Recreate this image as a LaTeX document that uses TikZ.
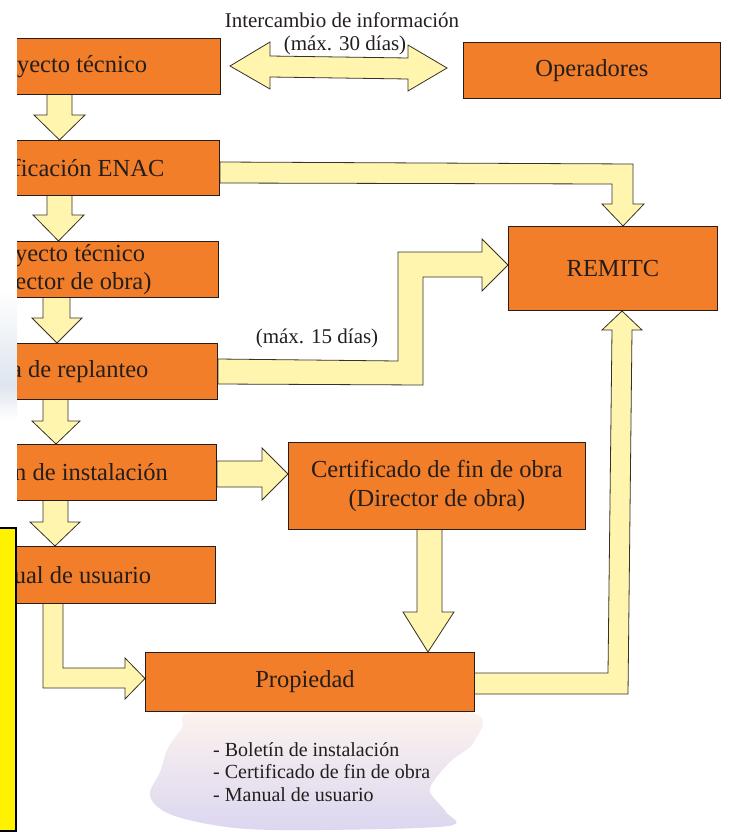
\documentclass[tikz,border=0pt]{standalone}
\usepackage{fontspec}
\setmainfont{Liberation Serif}
\definecolor{orangebox}{RGB}{242,126,42}
\definecolor{boxline}{RGB}{40,30,25}
\definecolor{arrfill}{RGB}{255,245,175}
\definecolor{arrline}{RGB}{55,50,40}
\definecolor{txt}{RGB}{35,30,28}
\definecolor{blobtop}{RGB}{253,244,238}
\definecolor{blobmid}{RGB}{242,228,234}
\definecolor{blobbot}{RGB}{220,214,240}
\definecolor{scanblue}{RGB}{222,229,238}
\begin{document}
\begin{tikzpicture}[x=1pt,y=-1pt,
  box/.style={draw=boxline, line width=0.9pt, fill=orangebox, inner sep=0pt,
    font=\fontsize{24.5}{28.5}\selectfont, text=txt, align=center},
  blockarrow/.style={draw=arrline, line width=0.8pt, fill=arrfill, line join=miter},
  lbl/.style={font=\fontsize{21}{24}\selectfont, text=txt, inner sep=0pt},
  listtxt/.style={font=\fontsize{20}{22.5}\selectfont, text=txt, inner sep=0pt, align=left}]
\useasboundingbox (0,0) rectangle (731,832);

% scan artefacts
\shade[top color=white, bottom color=scanblue] (0,290) rectangle (17,385);
\shade[top color=scanblue, bottom color=white] (0,385) rectangle (17,420);

% background blob behind the list
\shade[top color=blobtop, middle color=blobmid, bottom color=blobbot]
  plot[smooth cycle, tension=0.55] coordinates {(195,712) (330,711) (472,713) (474,742) (452,760)
   (436,778) (430,792) (446,812) (448,826) (320,830) (235,828) (172,815) (150,796)
   (160,772) (168,748) (182,728)};

% yellow bar at the left
\draw[fill=yellow, line width=2.6pt, draw=black] (-5,528) -- (16,528) -- (16,831) -- (-5,831);

% block arrows
\draw[blockarrow] (47,94) -- (72,94) -- (72,115) -- (85,115) -- (59.5,140) -- (34,115) -- (47,115) -- cycle;
\draw[blockarrow] (47,195) -- (72,195) -- (72,215) -- (84,215) -- (58.5,241) -- (33,215) -- (47,215) -- cycle;
\draw[blockarrow] (43,297) -- (70,297) -- (70,318) -- (82,318) -- (57,343) -- (32,318) -- (43,318) -- cycle;
\draw[blockarrow] (43,399) -- (68,399) -- (68,421) -- (80,421) -- (56,444) -- (32,421) -- (43,421) -- cycle;
\draw[blockarrow] (43,500) -- (68,500) -- (68,522) -- (80,522) -- (55,546) -- (30,522) -- (43,522) -- cycle;
\draw[blockarrow] (43,603) -- (63,603) -- (63,668) -- (125,668) -- (125,658) -- (145,678.5)
  -- (125,699) -- (125,688) -- (43,688) -- cycle;
% double arrow between proyecto and operadores
\draw[blockarrow] (230,66) -- (270,42) -- (270,56) -- (408,58) -- (408,45) -- (447,68)
  -- (408,91) -- (408,79) -- (270,77) -- (270,89) -- cycle;
% ENAC -> REMITC
\draw[blockarrow] (220,162) -- (633,164) -- (633,204) -- (644,204) -- (623,226) -- (602,204)
  -- (612,204) -- (612,184) -- (220,183) -- cycle;
% replanteo -> REMITC
\draw[blockarrow] (218,359) -- (398,361) -- (398,252) -- (482,252) -- (482,239) -- (508,265)
  -- (482,291) -- (482,277) -- (423,277) -- (423,385) -- (218,384) -- cycle;
% boletin -> certificado
\draw[blockarrow] (217,461) -- (262,461) -- (262,448) -- (288,474) -- (262,500) -- (262,487)
  -- (217,487) -- cycle;
% certificado -> propiedad
\draw[blockarrow] (417,529) -- (442,529) -- (442,612) -- (454,612) -- (428,652) -- (403,612)
  -- (417,612) -- cycle;
% propiedad -> REMITC
\draw[blockarrow] (474,673) -- (608,673) -- (612,330) -- (602,330) -- (622,311) -- (642,330)
  -- (632,330) -- (628,694) -- (474,694) -- cycle;

% left column boxes (cut at the left edge, as in the reference)
\begin{scope}
\clip (17,0) rectangle (731,832);
\node[box, minimum width=311pt, minimum height=56pt, anchor=north east] (proy) at (221,38) {Proyecto técnico};
\node[box, minimum width=311pt, minimum height=55pt, anchor=north east] (enac) at (220,140) {Certificación ENAC};
\node[box, minimum width=311pt, minimum height=56pt, anchor=north east] (proydir) at (219,241) {Proyecto técnico\\(Director de obra)};
\node[box, minimum width=311pt, minimum height=56pt, anchor=north east] (acta) at (218,343) {Acta de replanteo};
\node[box, minimum width=311pt, minimum height=56pt, anchor=north east] (bol) at (217,444) {Boletín de instalación};
\node[box, minimum width=311pt, minimum height=57pt, anchor=north east] (man) at (216,546) {Manual de usuario};
\end{scope}

% right boxes
\node[box, minimum width=257pt, minimum height=56pt, anchor=north west] (oper) at (463,42) {Operadores};
\node[box, minimum width=209pt, minimum height=84pt, anchor=north west] (remitc) at (508,226) {REMITC};
\node[box, minimum width=297pt, minimum height=87pt, anchor=north west] (cert) at (288,442) {Certificado de fin de obra\\(Director de obra)};
\node[box, minimum width=329pt, minimum height=59pt, anchor=north west] (prop) at (145,652) {\hspace*{-10pt}Propiedad};

% labels
\node[lbl] (inter) at (342,20) {Intercambio de información};
\node[lbl] (max30) at (345,45) {(máx. 30 días)};
\node[lbl] (max15) at (317,338) {(máx. 15 días)};
\node[listtxt, anchor=west] (lista) at (213,772) {- Boletín de instalación\\- Certificado de fin de obra\\- Manual de usuario};
\end{tikzpicture}
\end{document}
